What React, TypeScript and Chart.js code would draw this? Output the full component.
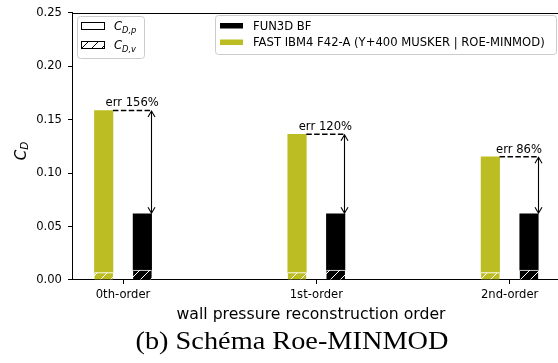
import React, { useEffect, useRef } from "react";
import { Chart, registerables } from "chart.js";

Chart.register(...registerables);

// ---- data ----
const categories = ["0th-order", "1st-order", "2nd-order"];
const fun3dTotal = [0.062, 0.062, 0.062];
const fun3dViscous = [0.0092, 0.0092, 0.0092];
const fastTotal = [0.1587, 0.1364, 0.1153];
const fastViscous = [0.007, 0.007, 0.007];
const errPercent = [156, 120, 86];
const yTicks = [0, 0.05, 0.1, 0.15, 0.2, 0.25];
const legendSeries = ["FUN3D BF", "FAST IBM4 F42-A (Y+400 MUSKER | ROE-MINMOD)"];
const xTitle = "wall pressure reconstruction order";
const caption = "(b) Schéma Roe-MINMOD";

// ---- style ----
const OLIVE = "#bcbd22";
const FAST_OFFSET = -0.1;
const FUN3D_OFFSET = 0.1;
const BAR_PX = 18.5;
const SANS = "'DejaVu Sans', sans-serif";
const SMALL = 11.6;

function makeHatch(bg: string | null, fg: string) {
  const c = document.createElement("canvas");
  c.width = 10;
  c.height = 10;
  const g = c.getContext("2d")!;
  g.fillStyle = bg || "#fff";
  g.fillRect(0, 0, 10, 10);
  g.strokeStyle = fg;
  g.lineWidth = 1;
  g.beginPath();
  g.moveTo(-1, 11);
  g.lineTo(11, -1);
  g.moveTo(-1, 1);
  g.lineTo(1, -1);
  g.moveTo(9, 11);
  g.lineTo(11, 9);
  g.stroke();
  return g.createPattern(c, "repeat")!;
}

function drawMathLabel(ctx: CanvasRenderingContext2D, x: number, y: number, main: string, sub: string, size: number, subSize: number, subDrop: number) {
  ctx.font = `italic ${size}px ${SANS}`;
  ctx.textAlign = "left";
  ctx.textBaseline = "alphabetic";
  ctx.fillText(main, x, y);
  const w = ctx.measureText(main).width;
  ctx.font = `italic ${subSize}px ${SANS}`;
  ctx.fillText(sub, x + w, y + subDrop);
}

const overlayPlugin = {
  id: "overlay",
  afterDraw(chart: any) {
    const ctx: CanvasRenderingContext2D = chart.ctx;
    const { left, right, top } = chart.chartArea;
    const xs = chart.scales.x;
    const ys = chart.scales.y;
    ctx.save();
    // top spine
    ctx.strokeStyle = "#000";
    ctx.lineWidth = 1;
    ctx.beginPath();
    ctx.moveTo(left, Math.round(top) + 0.5);
    ctx.lineTo(right, Math.round(top) + 0.5);
    ctx.stroke();

    // annotations
    categories.forEach((_, i) => {
      const xY = xs.getPixelForValue(i + FAST_OFFSET) + BAR_PX / 2;
      const xA = Math.floor(xs.getPixelForValue(i + FUN3D_OFFSET) + BAR_PX / 2) + 0.5;
      const yT = ys.getPixelForValue(fastTotal[i]);
      const yB = ys.getPixelForValue(fun3dTotal[i]);
      ctx.strokeStyle = "#000";
      ctx.lineWidth = 1.5;
      ctx.setLineDash([5.5, 2.4]);
      ctx.beginPath();
      ctx.moveTo(xY, yT);
      ctx.lineTo(xA, yT);
      ctx.stroke();
      ctx.setLineDash([]);
      ctx.lineWidth = 1.1;
      ctx.beginPath();
      ctx.moveTo(xA, yT + 0.5);
      ctx.lineTo(xA, yB - 0.5);
      ctx.moveTo(xA - 3.5, yT + 6.5);
      ctx.lineTo(xA, yT + 0.5);
      ctx.lineTo(xA + 3.5, yT + 6.5);
      ctx.moveTo(xA - 3.5, yB - 6.5);
      ctx.lineTo(xA, yB - 0.5);
      ctx.lineTo(xA + 3.5, yB - 6.5);
      ctx.stroke();
      ctx.fillStyle = "#000";
      ctx.font = `${SMALL}px ${SANS}`;
      ctx.textAlign = "center";
      ctx.textBaseline = "alphabetic";
      ctx.fillText(`err ${errPercent[i]}%`, (xY + xA) / 2, yT - 4);
    });

    // legend boxes
    const box = (x0: number, y0: number, x1: number, y1: number) => {
      ctx.fillStyle = "rgba(255,255,255,0.8)";
      ctx.strokeStyle = "#cccccc";
      ctx.lineWidth = 1;
      ctx.beginPath();
      (ctx as any).roundRect(x0 + 0.5, y0 + 0.5, x1 - x0, y1 - y0, 3);
      ctx.fill();
      ctx.stroke();
    };
    box(77, 16, 144, 58);
    ctx.fillStyle = "#fff";
    ctx.fillRect(81, 22, 24, 8);
    ctx.strokeStyle = "#000";
    ctx.strokeRect(81.5, 22.5, 23, 7);
    ctx.fillStyle = makeHatch(null, "#000");
    ctx.fillRect(81, 41, 24, 8);
    ctx.strokeRect(81.5, 41.5, 23, 7);
    ctx.fillStyle = "#000";
    drawMathLabel(ctx, 114, 30, "C", "D,p", SMALL, 8.3, 2.5);
    drawMathLabel(ctx, 114, 49, "C", "D,v", SMALL, 8.3, 2.5);

    box(215, 15, 556, 54);
    ctx.fillStyle = "#000";
    ctx.fillRect(220, 23, 23, 5.5);
    ctx.fillStyle = OLIVE;
    ctx.fillRect(220, 39.5, 23, 5.5);
    ctx.fillStyle = "#000";
    ctx.font = `${SMALL}px ${SANS}`;
    ctx.textAlign = "left";
    ctx.textBaseline = "alphabetic";
    ctx.fillText(legendSeries[0], 253, 29.5);
    ctx.fillText(legendSeries[1], 253, 46);

    // y title
    ctx.save();
    ctx.translate(26, 151);
    ctx.rotate(-Math.PI / 2);
    ctx.font = `italic 15px ${SANS}`;
    const wC = ctx.measureText("C").width;
    ctx.font = `italic 10.5px ${SANS}`;
    const wD = ctx.measureText("D").width;
    const x0 = -(wC + wD) / 2;
    ctx.fillStyle = "#000";
    ctx.font = `italic 15px ${SANS}`;
    ctx.textAlign = "left";
    ctx.fillText("C", x0, 0);
    ctx.font = `italic 10.5px ${SANS}`;
    ctx.fillText("D", x0 + wC, 1.5);
    ctx.restore();

    // x title
    ctx.font = `15.7px ${SANS}`;
    ctx.textAlign = "center";
    ctx.fillStyle = "#000";
    ctx.fillText(xTitle, 311, 319);

    // caption
    ctx.font = `26px 'Liberation Serif', serif`;
    const cw = ctx.measureText(caption).width;
    ctx.save();
    ctx.translate(292, 349);
    ctx.scale(313 / cw, 1);
    ctx.textAlign = "center";
    ctx.fillText(caption, 0, 0);
    ctx.restore();

    ctx.restore();
  },
};

export default function App() {
  const ref = useRef<HTMLCanvasElement | null>(null);
  useEffect(() => {
    if (!ref.current) return;
    const fastHatch = makeHatch(OLIVE, "#fff");
    const funHatch = makeHatch("#000", "#fff");
    const hatchBorder = { top: 1, left: 0, right: 0, bottom: 0 };
    const chart = new Chart(ref.current, {
      type: "bar",
      data: {
        datasets: [
          {
            label: "FAST viscous",
            data: categories.map((_, i) => ({ x: i + FAST_OFFSET, y: [0, fastViscous[i]] })) as any,
            backgroundColor: fastHatch,
            borderColor: "#fff",
            borderWidth: hatchBorder,
            borderSkipped: false,
          },
          {
            label: "FAST pressure",
            data: categories.map((_, i) => ({ x: i + FAST_OFFSET, y: [fastViscous[i], fastTotal[i]] })) as any,
            backgroundColor: OLIVE,
            borderWidth: 0,
          },
          {
            label: "FUN3D viscous",
            data: categories.map((_, i) => ({ x: i + FUN3D_OFFSET, y: [0, fun3dViscous[i]] })) as any,
            backgroundColor: funHatch,
            borderColor: "#fff",
            borderWidth: hatchBorder,
            borderSkipped: false,
          },
          {
            label: "FUN3D pressure",
            data: categories.map((_, i) => ({ x: i + FUN3D_OFFSET, y: [fun3dViscous[i], fun3dTotal[i]] })) as any,
            backgroundColor: "#000",
            borderWidth: 0,
          },
        ],
      },
      options: {
        animation: false,
        responsive: false,
        layout: { padding: { top: 10, left: 0, right: 0, bottom: 0 } },
        plugins: { legend: { display: false }, tooltip: { enabled: false } },
        datasets: { bar: { grouped: false, barThickness: BAR_PX } as any },
        scales: {
          x: {
            type: "linear",
            offset: false,
            min: -0.264,
            max: 2.25,
            afterBuildTicks: (s: any) => {
              s.ticks = categories.map((_, i) => ({ value: i }));
            },
            afterFit: (s: any) => {
              s.height = 83;
            },
            grid: { offset: false, drawOnChartArea: false, drawTicks: true, tickLength: 4, color: "#000", lineWidth: 1 },
            border: { display: true, color: "#000", width: 1 },
            ticks: {
              callback: (v: any) => categories[Number(v)] ?? "",
              color: "#000",
              font: { family: SANS, size: SMALL },
              padding: 4,
              maxRotation: 0,
              autoSkip: false,
            },
          },
          y: {
            min: 0,
            max: 0.25,
            afterBuildTicks: (s: any) => {
              s.ticks = yTicks.map((v) => ({ value: v }));
            },
            afterFit: (s: any) => {
              s.width = 72;
            },
            grid: { drawOnChartArea: false, drawTicks: true, tickLength: 4, color: "#000", lineWidth: 1 },
            border: { display: true, color: "#000", width: 1 },
            ticks: {
              callback: (v: any) => Number(v).toFixed(2),
              color: "#000",
              font: { family: SANS, size: SMALL },
              padding: 6,
            },
          },
        },
      },
      plugins: [overlayPlugin],
    });
    return () => chart.destroy();
  }, []);
  return (
    <div style={{ position: "absolute", left: 0, top: 0, width: 558, height: 363, background: "#fff" }}>
      <canvas ref={ref} width={558} height={363} style={{ display: "block", width: 558, height: 363 }} />
    </div>
  );
}
